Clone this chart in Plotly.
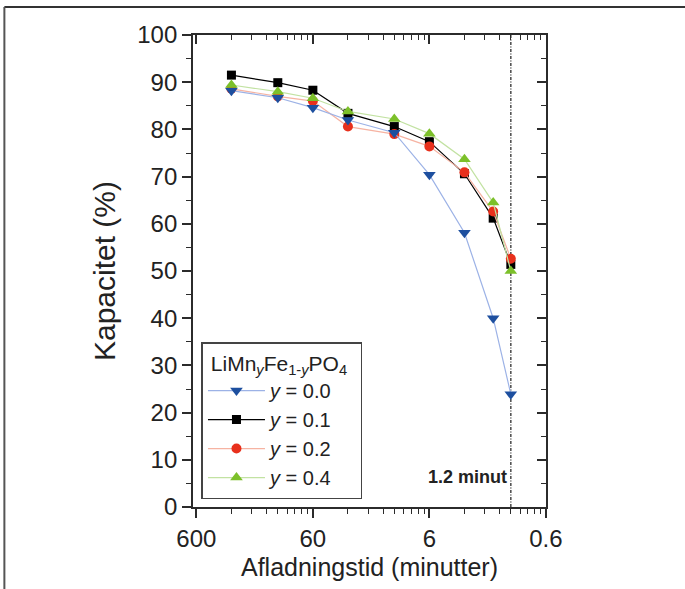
import math
import plotly.graph_objects as go

# ---- data ----
discharge_time_min = [300, 120, 60, 30, 12, 6, 3, 1.7, 1.2]
cap_y00 = [88.2, 86.7, 84.6, 82.0, 79.3, 70.4, 58.1, 40.0, 23.9]
cap_y01 = [91.5, 89.9, 88.3, 83.4, 80.6, 77.4, 70.6, 61.2, 51.4]
cap_y02 = [88.6, 87.0, 86.0, 80.6, 79.0, 76.4, 70.9, 62.6, 52.6]
cap_y04 = [89.4, 88.0, 86.6, 83.8, 82.2, 79.1, 73.7, 64.5, 50.0]

x_major_ticks = [600, 60, 6, 0.6]
x_major_labels = ["600", "60", "6", "0.6"]
x_minor_ticks = [m / k for m in [600, 60, 6] for k in range(2, 10)]
cutoff_min = 1.2
cutoff_label = "<b>1.2 minut</b>"

FONT = "Liberation Sans, Arial, Helvetica, sans-serif"
AX = "#2b2b2b"

fig = go.Figure()

# vertical cut-off line (drawn first, behind markers)
fig.add_trace(go.Scatter(
    x=[cutoff_min, cutoff_min], y=[0, 100], mode="lines",
    line=dict(color="#555555", width=1.6, dash="3px,1.5px,1px,1.5px"),
    showlegend=False, hoverinfo="skip"))

series = [
    ("<i>y</i> = 0.1", cap_y01, "#000000", "#000000", "square", 9, 2),
    ("<i>y</i> = 0.2", cap_y02, "#f6b3a2", "#e8301c", "circle", 10, 3),
    ("<i>y</i> = 0.4", cap_y04, "#c2e2a2", "#7cc02a", "triangle-up", 11, 4),
    ("<i>y</i> = 0.0", cap_y00, "#9cb2e6", "#1d4f9f", "triangle-down", 11, 1),
]
for name, vals, lc, mc, sym, sz, rank in series:
    fig.add_trace(go.Scatter(
        x=discharge_time_min, y=vals, mode="lines+markers", name=name,
        line=dict(color=lc, width=1.2),
        marker=dict(color=mc, symbol=sym, size=sz, line=dict(width=0)),
        legendrank=rank))

# dummy trace for mirrored (inside-tick) top/right axes
fig.add_trace(go.Scatter(
    x=discharge_time_min, y=cap_y00, xaxis="x2", yaxis="y2", mode="markers",
    marker=dict(opacity=0), showlegend=False, hoverinfo="skip"))

xrange = [2.807, math.log10(0.6) - 0.001]
common_x = dict(type="log", range=xrange, tickmode="array",
                tickvals=x_major_ticks, showgrid=False, zeroline=False,
                showline=True, linecolor=AX, linewidth=1.8,
                tickcolor=AX, tickwidth=1.5, ticklen=9)
fig.update_layout(
    xaxis=dict(**common_x, ticktext=x_major_labels, ticks="outside",
               tickfont=dict(size=24, color="#222", family=FONT),
               minor=dict(tickmode="array", tickvals=x_minor_ticks,
                          ticks="outside", ticklen=5, tickwidth=1.3,
                          tickcolor=AX),
               title=dict(text="Afladningstid (minutter)", standoff=8,
                          font=dict(size=25, color="#222", family=FONT))),
    xaxis2=dict(**common_x, overlaying="x", side="top", anchor="y",
                ticks="inside", showticklabels=False,
                minor=dict(tickmode="array", tickvals=x_minor_ticks,
                           ticks="inside", ticklen=5, tickwidth=1.3,
                           tickcolor=AX)),
    yaxis=dict(range=[0, 100], tickmode="linear", tick0=0, dtick=10,
               ticks="outside", ticklen=9, tickwidth=1.5, tickcolor=AX,
               showline=True, linecolor=AX, linewidth=1.8,
               showgrid=False, zeroline=False,
               tickfont=dict(size=24, color="#222", family=FONT),
               minor=dict(dtick=5, ticks="outside", ticklen=5,
                          tickwidth=1.3, tickcolor=AX),
               title=dict(text="Kapacitet (%)", standoff=13,
                          font=dict(size=30, color="#222", family=FONT))),
    yaxis2=dict(range=[0, 100], tickmode="linear", tick0=0, dtick=10,
                overlaying="y", side="right", anchor="x",
                ticks="inside", ticklen=9, tickwidth=1.5, tickcolor=AX,
                showline=True, linecolor=AX, linewidth=1.8,
                showgrid=False, zeroline=False, showticklabels=False,
                minor=dict(dtick=5, ticks="inside", ticklen=5,
                           tickwidth=1.3, tickcolor=AX)),
    width=685, height=589,
    margin=dict(l=193, r=139, t=35, b=80),
    paper_bgcolor="white", plot_bgcolor="white",
    font=dict(family=FONT, color="#222"),
    legend=dict(x=0.024, y=0.349, xanchor="left", yanchor="top",
                bgcolor="white", bordercolor="#444", borderwidth=1.5,
                font=dict(size=20, family=FONT, color="#222"),
                title=dict(text="&nbsp;LiMn<sub><i>y</i></sub>Fe<sub>1-<i>y</i></sub>PO<sub>4</sub>&nbsp;&nbsp;",
                           font=dict(size=21, family=FONT, color="#222")),
                tracegroupgap=0, itemwidth=57),
    showlegend=True,
)

fig.add_annotation(x=math.log10(cutoff_min), y=6.3, xref="x", yref="y",
                   text=cutoff_label, showarrow=False, xanchor="right",
                   yanchor="middle", xshift=-2,
                   font=dict(size=18, family=FONT, color="#222"))

# outer frame (top and left edges of the figure box)
px_l, px_r, px_t, px_b = 193.3, 545.7, 35.0, 509.0
def xp(px):
    return (px - px_l) / (px_r - px_l)
def yp(py):
    return (px_b - py) / (px_b - px_t)
fig.add_shape(type="line", xref="paper", yref="paper",
              x0=xp(5), x1=xp(690), y0=yp(7), y1=yp(7),
              line=dict(color="#333", width=2))
fig.add_shape(type="line", xref="paper", yref="paper",
              x0=xp(5), x1=xp(5), y0=yp(7), y1=yp(595),
              line=dict(color="#555", width=2))

fig.write_html("out.html", config={"displayModeBar": False},
               post_script="document.body.style.margin='0';document.body.style.overflow='hidden';")
